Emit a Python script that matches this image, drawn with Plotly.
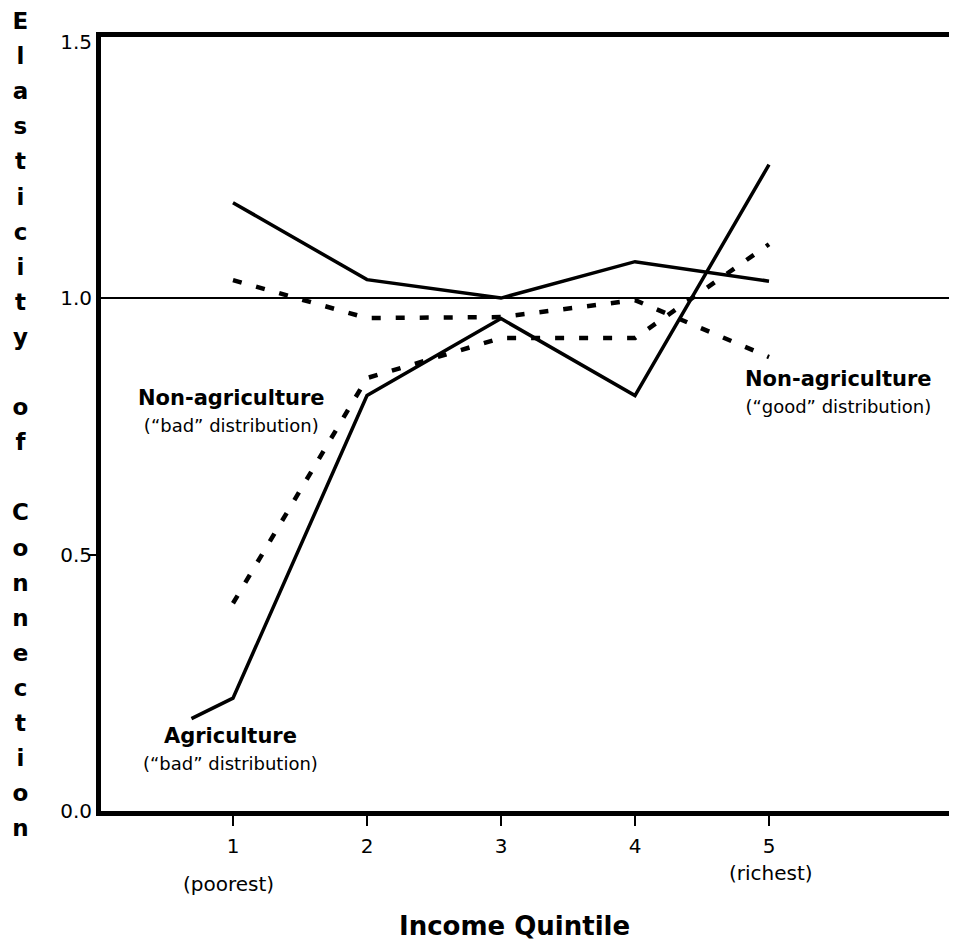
import plotly.graph_objects as go

# ---- data ----
quintiles = [1, 2, 3, 4, 5]
x_tick_labels = ["1", "2", "3", "4", "5"]
y_tick_values = [0.0, 0.5, 1.0, 1.5]
y_tick_labels = ["0.0", "0.5", "1.0", "1.5"]

agri_bad_x = [0.69, 1, 2, 3, 4, 5]
agri_bad_y = [0.18, 0.22, 0.81, 0.96, 0.81, 1.26]

agri_good_y = [1.186, 1.036, 1.0, 1.071, 1.033]
nonag_good_y = [1.035, 0.961, 0.963, 0.996, 0.885]
nonag_bad_y = [0.405, 0.844, 0.922, 0.922, 1.105]

reference_level = 1.0

FONT = "DejaVu Sans"
BLACK = "#000000"
DASH = "9px,15px"

fig = go.Figure()

fig.add_hline(y=reference_level, line=dict(color=BLACK, width=2), layer="below")

fig.add_trace(go.Scatter(x=quintiles, y=agri_good_y, mode="lines",
                         line=dict(color=BLACK, width=3.5), name="Agriculture (good)"))
fig.add_trace(go.Scatter(x=agri_bad_x, y=agri_bad_y, mode="lines",
                         line=dict(color=BLACK, width=3.5), name="Agriculture (bad)"))
fig.add_trace(go.Scatter(x=quintiles, y=nonag_good_y, mode="lines",
                         line=dict(color=BLACK, width=4.5, dash=DASH),
                         name="Non-agriculture (good)"))
fig.add_trace(go.Scatter(x=quintiles, y=nonag_bad_y, mode="lines",
                         line=dict(color=BLACK, width=4.5, dash=DASH),
                         name="Non-agriculture (bad)"))
# helper trace so the overlay axis (single tick at 0.5) is drawn
fig.add_trace(go.Scatter(x=[], y=[], yaxis="y2", showlegend=False, hoverinfo="skip"))

y_range = [0, 1.509]


def label(text, x, y, xref, yref, size, bold=False):
    return dict(text=("<b>%s</b>" % text) if bold else text, x=x, y=y, xref=xref, yref=yref,
                xanchor="center", yanchor="middle", showarrow=False, align="center",
                font=dict(family=FONT, size=size, color=BLACK))


sub = "<br><span style='font-size:18px'>%s</span>"
annotations = [
    label("<b>Non-agriculture</b>" + sub % "(\u201cbad\u201d distribution)", 0.99, 0.78, "x", "y", 21),
    label("<b>Agriculture</b>" + sub % "(\u201cbad\u201d distribution)", 0.985, 0.12, "x", "y", 21),
    label("<b>Non-agriculture</b>" + sub % "(\u201cgood\u201d distribution)", 5.515, 0.816, "x", "y", 21),
    label("(poorest)", 0.963, -0.0943, "x", "paper", 20),
    label("(richest)", 5.015, -0.0795, "x", "paper", 20),
    label("Income Quintile", 0.4836, -0.1486, "paper", "paper", 26, bold=True),
]

title_letters = list("Elasticity") + ["\u00a0"] + list("of") + ["\u00a0"] + list("Connection")
y_title = "<br>".join("<span style='font-size:23px'><b>%s</b></span>" % c for c in title_letters)
annotations.append(dict(text=y_title, x=-0.094, y=1.04, xref="paper", yref="paper",
                        xanchor="center", yanchor="top", showarrow=False, align="center",
                        font=dict(family=FONT, size=27, color=BLACK)))

fig.update_layout(
    width=949, height=937,
    margin=dict(l=93, r=0, t=29, b=134),
    paper_bgcolor="white", plot_bgcolor="white",
    showlegend=False,
    font=dict(family=FONT, color=BLACK),
    xaxis=dict(range=[0.015, 6.403], showline=True, linewidth=5, linecolor=BLACK,
               mirror=True, ticks="outside", ticklen=10, tickwidth=2, tickcolor=BLACK,
               tickvals=quintiles, ticktext=x_tick_labels, showgrid=False, zeroline=False,
               tickfont=dict(family=FONT, size=20, color=BLACK), ticklabelstandoff=3),
    yaxis=dict(range=y_range, showline=True, linewidth=5, linecolor=BLACK,
               ticks="", tickvals=y_tick_values, ticktext=y_tick_labels,
               showgrid=False, zeroline=False,
               tickfont=dict(family=FONT, size=20, color=BLACK)),
    yaxis2=dict(range=y_range, overlaying="y", anchor="x", side="left",
                tickvals=[0.5], ticks="outside", ticklen=12, tickwidth=2, tickcolor=BLACK,
                showticklabels=False, showline=False, showgrid=False, zeroline=False),
    annotations=annotations,
)

fig.write_html("out.html")
